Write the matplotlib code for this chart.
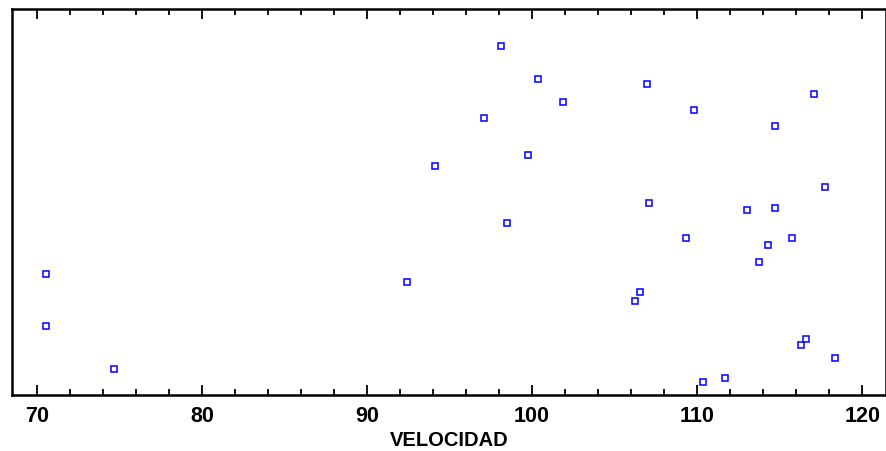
import numpy as np
import matplotlib.pyplot as plt
from matplotlib.ticker import MultipleLocator

# VELOCIDAD values and their (unitless) vertical position in the dot plot
velocidad = [70.56, 70.56, 74.64, 92.41, 94.10, 97.11, 98.12, 98.50, 99.75,
             100.36, 101.90, 106.21, 106.54, 106.94, 107.08, 109.32, 109.79,
             110.33, 111.71, 113.04, 113.72, 114.27, 114.73, 114.73, 115.72,
             116.27, 116.59, 117.05, 117.74, 118.34]
posicion = [31.3, 17.9, 6.7, 29.4, 59.4, 71.7, 90.4, 44.6, 62.1,
            81.9, 75.9, 24.4, 26.8, 80.6, 49.8, 40.6, 73.9,
            3.3, 4.3, 47.8, 34.4, 38.9, 69.7, 48.5, 40.6,
            12.9, 14.5, 77.9, 53.8, 9.6]

plt.rcParams['font.family'] = ['Liberation Sans', 'DejaVu Sans']

fig = plt.figure(figsize=(8.86, 4.51), dpi=100)
ax = fig.add_axes([12 / 886, 1 - 395 / 451, 873.5 / 886, 386 / 451])

ax.plot(velocidad, posicion, linestyle='none', marker='s', markersize=4.6,
        markerfacecolor='none', markeredgecolor='#0000ff', markeredgewidth=1.1)

ax.set_xlim(68.49, 121.41)
ax.set_ylim(0, 100)
ax.xaxis.set_major_locator(MultipleLocator(10))
ax.xaxis.set_minor_locator(MultipleLocator(2))
ax.set_yticks([])
ax.tick_params(axis='x', which='both', direction='in', top=True, bottom=True,
               width=1.3, labelsize=15.5, pad=8)
ax.tick_params(axis='x', which='major', length=7)
ax.tick_params(axis='x', which='minor', length=4)
for lbl in ax.get_xticklabels():
    lbl.set_fontweight('bold')
for s in ax.spines.values():
    s.set_linewidth(1.8)

ax.set_xlabel('VELOCIDAD', fontsize=14.5, fontweight='bold', labelpad=3)

fig.savefig('out.png', dpi=100)
